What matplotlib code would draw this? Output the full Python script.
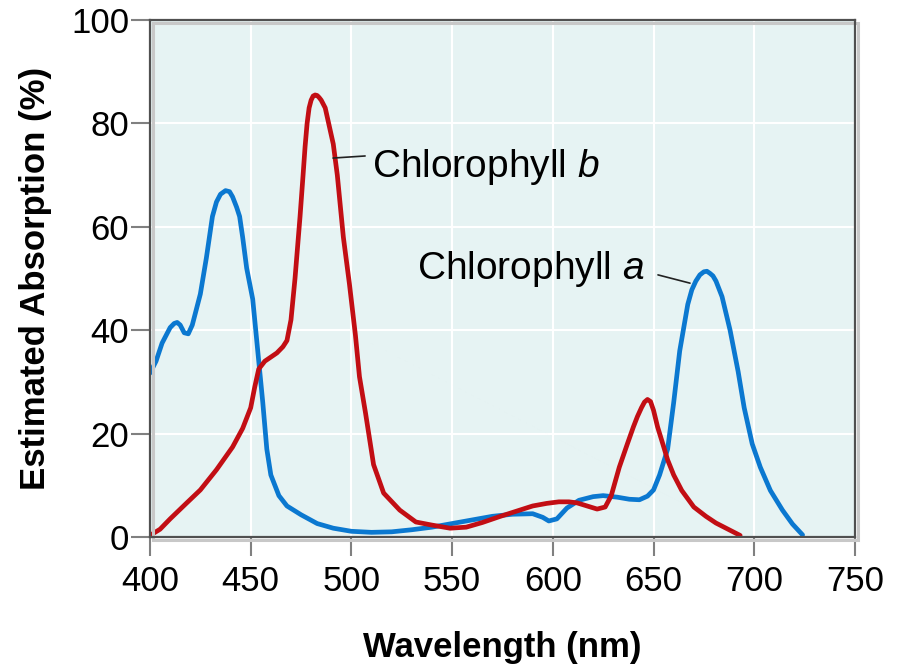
import matplotlib
matplotlib.use("Agg")
import matplotlib.pyplot as plt
from matplotlib.patches import Rectangle
from matplotlib.transforms import offset_copy

plt.rcParams['font.family'] = ['Liberation Sans', 'DejaVu Sans']
plt.rcParams['mathtext.fontset'] = 'custom'
plt.rcParams['mathtext.rm'] = 'Liberation Sans'
plt.rcParams['mathtext.it'] = 'Liberation Sans:italic'

# Chlorophyll a (blue)
wl_a = [400, 403, 406, 410, 412, 413.5, 415, 417, 419, 421, 423, 425, 428, 431,
        433, 435, 437.5, 439.5, 441, 443, 444.5, 446, 448, 451, 454, 456, 458,
        460, 464, 468, 475, 483, 491, 500, 510, 520, 530, 540, 550, 560, 570,
        580, 590, 595, 598, 602, 607, 613, 620, 625, 632, 638, 643, 647, 650,
        653, 657, 660, 663, 667, 669, 671, 673, 675, 676.5, 678, 679.5, 681,
        684, 688, 692, 695, 699, 703, 708, 714, 719, 724]
abs_a = [31.7, 34, 37.5, 40.5, 41.3, 41.5, 41, 39.5, 39.3, 41, 44, 47, 54, 62,
         64.8, 66.3, 67, 66.8, 65.8, 63.8, 62, 58, 52, 46, 34, 26, 17,
         12, 8, 6, 4.3, 2.6, 1.7, 1.1, 0.9, 1.0, 1.4, 1.9, 2.6, 3.3, 4.0,
         4.4, 4.5, 3.8, 3.1, 3.5, 5.6, 7.1, 7.8, 8.0, 7.7, 7.3, 7.2, 7.9, 9.1,
         12, 17, 26, 36, 45, 47.8, 49.5, 50.7, 51.3, 51.4, 51, 50.5, 49.5,
         46.5, 40, 32, 25, 18, 13.5, 9, 5.2, 2.5, 0.4]

# Chlorophyll b (red)
wl_b = [400, 405, 410, 418, 425, 433, 441, 446, 450, 452, 454, 457, 460, 463,
        466, 468, 470, 472, 474.5, 476, 477, 478, 479, 480, 481, 482, 483, 484,
        485, 487, 489, 491, 493, 496, 499, 502, 504, 507, 511, 516, 524, 532,
        540, 549, 557, 565, 574, 582, 590, 597, 603, 608, 612, 617, 622, 626,
        629, 633, 637, 640, 642, 644, 645.5, 647, 648.5, 650, 652, 655, 657,
        660, 664, 670, 676, 681, 687, 693]
abs_b = [0.3, 1.5, 3.5, 6.5, 9.1, 13, 17.4, 21, 25, 29, 32.5, 34, 34.8, 35.6,
         36.8, 38, 42, 50, 62, 70, 75.5, 80, 83, 84.5, 85.3, 85.5, 85.4, 85,
         84.5, 83, 79.5, 76, 70, 58, 49, 39, 31, 24, 14, 8.5, 5.2, 2.9,
         2.3, 1.7, 1.9, 2.8, 4.0, 5.0, 6.0, 6.5, 6.8, 6.8, 6.6, 6.0, 5.4, 5.8,
         8, 13.5, 18, 21.3, 23.3, 25, 26.1, 26.6, 26.2, 24.5, 21.3, 17.5, 14.9,
         12, 9, 5.8, 4.0, 2.7, 1.5, 0.3]

xticks = [400, 450, 500, 550, 600, 650, 700, 750]
yticks = [0, 20, 40, 60, 80, 100]

fig = plt.figure(figsize=(9.03, 6.65), dpi=100)
ax = fig.add_axes([0.1661, 0.1925, 0.7807, 0.7774])
ax.set_facecolor('#e6f3f3')

ax.plot(wl_a, abs_a, color='#0b78d0', lw=3.4, solid_joinstyle='round',
        solid_capstyle='round', zorder=3)
ax.plot(wl_b, abs_b, color='#c20e14', lw=3.4, solid_joinstyle='round',
        solid_capstyle='round', zorder=3)

ax.set_xlim(400, 750)
ax.set_ylim(0, 100)
ax.set_xticks(xticks)
ax.set_yticks(yticks)
ax.grid(True, color='white', lw=1.5)
ax.set_axisbelow(True)
ax.tick_params(axis='both', direction='out', length=14, width=1.5,
               color='#808080', labelsize=25)
ax.tick_params(axis='y', pad=1)
ax.tick_params(axis='x', pad=6)

for sp in ax.spines.values():
    sp.set_color('#505050')
    sp.set_linewidth(1.6)
    sp.set_zorder(5)

# light shadow frame offset right/down
shadow = Rectangle((0, 0), 1, 1, fill=False, edgecolor='#c8c8c8', lw=2.2,
                   transform=offset_copy(ax.transAxes, fig=fig, x=3, y=-3, units='dots'),
                   clip_on=False, zorder=4)
ax.add_patch(shadow)

ax.set_xlabel('Wavelength (nm)', fontsize=25, fontweight='bold', labelpad=24)
ax.set_ylabel('Estimated Absorption (%)', fontsize=25, fontweight='bold', labelpad=14)

ax.text(510.2, 69.6, 'Chlorophyll $\\mathit{b}$', fontsize=28, va='baseline', ha='left')
ax.annotate('', xy=(490.9, 73.3), xytext=(506.8, 73.7),
            arrowprops=dict(arrowstyle='-', color='#222222', lw=1.2,
                            shrinkA=0, shrinkB=0))
ax.text(532.6, 49.9, 'Chlorophyll $\\mathit{a}$', fontsize=28, va='baseline', ha='left')
ax.annotate('', xy=(668.1, 49.1), xytext=(652.2, 50.7),
            arrowprops=dict(arrowstyle='-', color='#222222', lw=1.2,
                            shrinkA=0, shrinkB=0))

fig.savefig('out.png', dpi=100)
